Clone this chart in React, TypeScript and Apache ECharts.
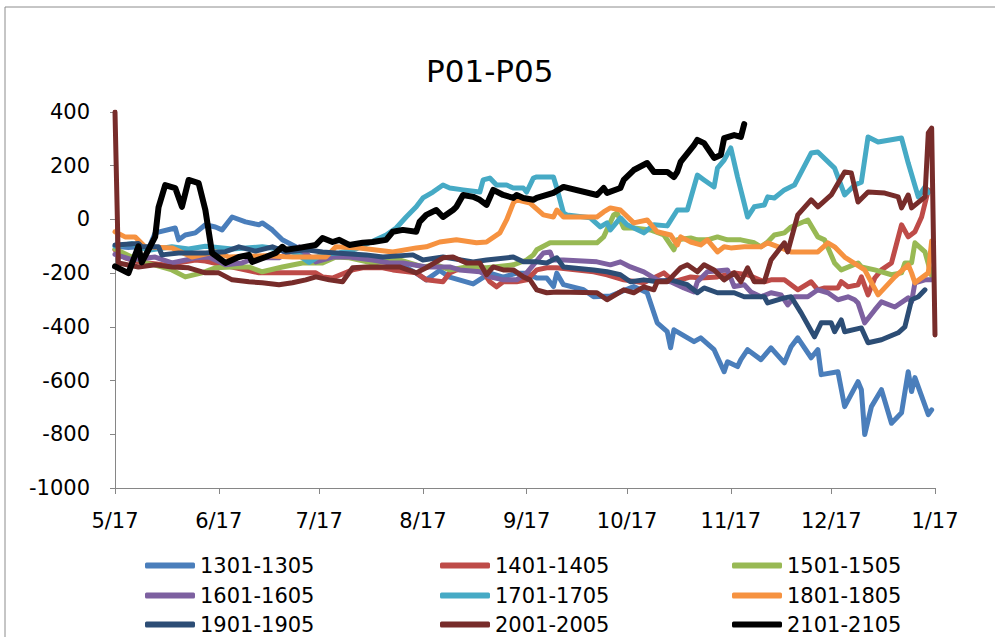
import React, { useEffect, useRef } from "react";
import * as echarts from "echarts";

const titleText = "P01-P05";
const seriesNames = ["1301-1305", "1401-1405", "1501-1505", "1601-1605", "1701-1705", "1801-1805", "1901-1905", "2001-2005", "2101-2105"];
const seriesColors = ["#4A7EBB", "#BE4B48", "#98B954", "#7D60A0", "#46AAC5", "#F69240", "#2C4D75", "#772C2A", "#000000"];

// x = days since 5/17, y = value
const s1301 = [[0,-100],[4,-105],[7,-102],[10,-110],[12,-50],[18,-32],[19,-76],[21,-58],[24,-50],[27,-20],[30,-28],[32,-39],[35,9],[39,-9],[43,-20],[44,-13],[47,-39],[50,-76],[54,-102],[57,-140],[59,-143],[65,-130],[70,-135],[78,-150],[85,-165],[90,-200],[93,-225],[97,-190],[100,-215],[107,-240],[112,-200],[116,-215],[120,-200],[123,-200],[126,-218],[129,-218],[131,-250],[132,-200],[134,-243],[140,-262],[143,-288],[148,-285],[155,-250],[159,-273],[162,-385],[165,-418],[166,-478],[167,-411],[173,-455],[175,-441],[179,-485],[182,-567],[183,-530],[186,-548],[187,-522],[189,-485],[193,-522],[196,-478],[200,-534],[202,-474],[204,-441],[208,-515],[210,-485],[211,-578],[216,-567],[218,-697],[222,-604],[223,-634],[224,-801],[226,-697],[229,-634],[232,-759],[235,-720],[237,-567],[238,-641],[239,-589],[243,-727],[244,-709]];
const s1401 = [[0,-113],[3,-143],[7,-158],[15,-170],[24,-151],[27,-155],[35,-177],[43,-199],[57,-199],[60,-199],[62,-214],[65,-218],[71,-188],[74,-180],[80,-180],[83,-188],[90,-199],[93,-225],[98,-232],[100,-199],[102,-188],[107,-180],[110,-195],[112,-232],[114,-251],[116,-232],[120,-232],[123,-225],[126,-188],[129,-180],[132,-180],[143,-195],[147,-206],[152,-225],[158,-236],[164,-199],[167,-232],[172,-214],[175,-218],[180,-214],[185,-199],[189,-206],[194,-232],[196,-225],[200,-225],[204,-262],[208,-232],[210,-262],[212,-255],[216,-255],[217,-232],[219,-251],[222,-243],[223,-214],[225,-281],[227,-218],[229,-188],[232,-162],[235,-20],[237,-65],[239,-46],[241,9],[243,110]];
const s1501 = [[0,-110],[5,-140],[10,-165],[12,-170],[17,-188],[21,-214],[26,-199],[30,-180],[35,-177],[40,-177],[44,-195],[50,-177],[56,-162],[62,-162],[66,-140],[70,-143],[77,-162],[85,-151],[92,-177],[96,-169],[100,-188],[105,-177],[111,-180],[119,-169],[123,-151],[125,-132],[126,-113],[130,-87],[133,-87],[144,-87],[146,-65],[149,17],[150,24],[152,-32],[155,-32],[160,-39],[164,-58],[167,-113],[168,-76],[172,-69],[174,-76],[177,-76],[180,-65],[183,-76],[187,-76],[191,-87],[193,-102],[195,-84],[197,-58],[200,-50],[202,-28],[207,-2],[210,-65],[212,-76],[215,-162],[217,-188],[222,-162],[223,-177],[227,-188],[232,-206],[235,-199],[236,-162],[238,-162],[239,-87],[242,-121],[244,-210]];
const s1601 = [[0,-130],[5,-150],[12,-140],[17,-162],[24,-143],[28,-140],[33,-169],[38,-162],[42,-143],[49,-143],[55,-102],[57,-125],[60,-158],[65,-140],[70,-140],[77,-151],[82,-162],[86,-162],[93,-177],[97,-177],[100,-177],[103,-188],[109,-195],[112,-214],[116,-225],[120,-225],[123,-199],[125,-169],[128,-125],[130,-121],[131,-151],[134,-151],[144,-158],[148,-169],[151,-158],[154,-177],[158,-195],[162,-225],[166,-232],[170,-255],[173,-270],[174,-232],[177,-195],[183,-188],[185,-250],[188,-243],[190,-270],[193,-288],[196,-273],[199,-281],[201,-318],[203,-288],[207,-288],[210,-262],[213,-273],[216,-299],[219,-288],[221,-299],[222,-311],[224,-385],[227,-337],[229,-307],[233,-326],[237,-292],[238,-307],[239,-236],[242,-225],[244,-225]];
const s1701 = [[0,-100],[5,-90],[10,-115],[17,-102],[22,-110],[27,-100],[35,-110],[44,-102],[49,-110],[54,-125],[58,-160],[62,-130],[67,-125],[72,-110],[76,-87],[81,-58],[84,-32],[87,9],[90,47],[92,80],[95,102],[98,128],[100,117],[104,110],[109,102],[110,147],[112,154],[114,128],[117,128],[119,117],[122,117],[123,102],[125,154],[126,158],[131,158],[132,117],[134,24],[135,17],[142,6],[145,-28],[147,-13],[148,-39],[151,6],[153,-20],[158,-50],[161,-20],[165,-24],[168,35],[171,35],[174,165],[176,147],[179,121],[180,191],[182,221],[184,266],[186,158],[188,60],[189,9],[191,47],[194,54],[195,84],[197,80],[200,110],[203,128],[208,247],[210,251],[215,191],[216,158],[218,91],[221,128],[223,139],[225,307],[228,288],[235,303],[237,210],[240,84],[242,121],[243,100]];
const s1801 = [[0,-46],[3,-65],[6,-65],[9,-102],[17,-106],[23,-140],[30,-121],[34,-140],[45,-135],[53,-140],[63,-140],[66,-102],[73,-106],[83,-121],[90,-106],[93,-102],[97,-84],[102,-76],[108,-87],[111,-84],[115,-50],[117,-2],[119,61],[120,73],[124,61],[128,17],[131,9],[132,35],[134,9],[144,9],[146,28],[148,43],[151,35],[155,-13],[159,-2],[162,-46],[166,-58],[168,-95],[169,-65],[172,-84],[175,-95],[177,-76],[180,-121],[182,-102],[184,-106],[188,-102],[193,-102],[195,-87],[199,-106],[202,-121],[210,-121],[213,-87],[215,-102],[218,-140],[224,-188],[228,-281],[233,-214],[237,-169],[238,-199],[239,-236],[243,-199],[244,-80]];
const s1901 = [[0,-95],[7,-90],[8,-102],[13,-102],[14,-132],[19,-125],[27,-125],[33,-120],[37,-102],[42,-118],[47,-102],[51,-121],[57,-113],[62,-121],[66,-125],[75,-132],[80,-140],[89,-132],[92,-151],[98,-140],[107,-158],[111,-151],[119,-140],[122,-158],[126,-158],[129,-162],[132,-143],[134,-177],[143,-188],[147,-195],[151,-206],[154,-232],[158,-225],[162,-232],[166,-225],[171,-243],[174,-273],[176,-255],[180,-273],[185,-273],[188,-288],[194,-288],[195,-311],[200,-292],[202,-288],[205,-348],[209,-437],[211,-385],[214,-385],[215,-418],[217,-374],[218,-418],[223,-404],[225,-459],[229,-448],[234,-422],[236,-400],[238,-299],[240,-288],[242,-262]];
const s2001 = [[0,400],[1,-162],[7,-177],[12,-169],[17,-177],[22,-180],[27,-199],[31,-199],[35,-225],[40,-232],[44,-236],[49,-243],[53,-236],[57,-225],[60,-214],[64,-225],[68,-232],[71,-180],[75,-177],[85,-177],[90,-199],[93,-180],[98,-143],[101,-140],[105,-162],[109,-162],[111,-206],[113,-177],[116,-188],[119,-188],[122,-214],[124,-225],[126,-262],[129,-273],[132,-270],[144,-273],[147,-299],[152,-262],[155,-273],[158,-251],[161,-262],[162,-232],[165,-232],[169,-180],[171,-169],[174,-195],[176,-169],[179,-188],[182,-225],[185,-199],[187,-232],[189,-180],[191,-232],[194,-232],[196,-151],[200,-87],[201,-121],[204,17],[208,73],[210,47],[214,91],[218,177],[220,173],[222,65],[225,102],[230,98],[234,84],[235,43],[237,91],[238,43],[242,84],[243,322],[244,340],[245,-430]];
const s2101 = [[0,-175],[4,-200],[7,-100],[8,-160],[12,-65],[13,45],[15,128],[18,117],[20,47],[22,147],[25,135],[27,35],[29,-125],[33,-162],[37,-140],[40,-132],[41,-158],[45,-140],[48,-125],[50,-102],[51,-113],[55,-106],[60,-95],[62,-69],[65,-84],[67,-76],[70,-95],[74,-87],[77,-84],[81,-76],[83,-46],[86,-39],[90,-46],[91,-9],[93,17],[96,35],[98,9],[101,35],[102,47],[104,91],[107,84],[109,73],[111,54],[113,110],[116,91],[119,80],[120,91],[122,80],[125,73],[126,80],[131,99],[134,121],[144,91],[146,117],[147,99],[151,117],[152,147],[155,184],[159,210],[161,177],[165,177],[167,158],[168,177],[169,214],[173,277],[174,296],[176,284],[179,229],[181,240],[182,303],[185,314],[187,307],[188,355]];

const allSeries = [s1301, s1401, s1501, s1601, s1701, s1801, s1901, s2001, s2101];

// daily categories from 5/17 to 1/17
const startDay = Date.UTC(2012, 4, 17);
const dayCount = 246;
const dayLabels: string[] = Array.from({ length: dayCount }, (_, i) => {
  const d = new Date(startDay + i * 86400000);
  return `${d.getUTCMonth() + 1}/${d.getUTCDate()}`;
});

const yMin = -1000;
const yMax = 400;
const yStep = 200;

// legend layout: 3 columns x 3 rows, row-major in series order
const legendCols = 3;

export default function App() {
  const ref = useRef<HTMLDivElement>(null);
  useEffect(() => {
    if (!ref.current) return;
    const chart = echarts.init(ref.current, null, { renderer: "svg" });
    const font = "DejaVu Sans";
    const isMonthTick = (_i: number, v: string) => /\/17$/.test(v);
    const legendLefts = [145, 440, 732];
    const legendTops = [555, 585, 614];
    chart.setOption({
      animation: false,
      backgroundColor: "#ffffff",
      title: {
        text: titleText,
        left: 421,
        top: 50,
        textStyle: { fontFamily: font, fontSize: 31, fontWeight: "normal", color: "#000" },
      },
      grid: { left: 115, right: 60, top: 112, bottom: 149, containLabel: false },
      xAxis: {
        type: "category",
        data: dayLabels,
        boundaryGap: false,
        axisLine: { onZero: false, lineStyle: { color: "#868686", width: 1 } },
        axisTick: { show: true, interval: isMonthTick, length: 6, lineStyle: { color: "#868686" } },
        axisLabel: { interval: isMonthTick, margin: 22, fontFamily: font, fontSize: 21, color: "#000" },
        splitLine: { show: false },
      },
      yAxis: {
        type: "value",
        min: yMin,
        max: yMax,
        interval: yStep,
        axisLine: { show: true, lineStyle: { color: "#868686", width: 1 } },
        axisTick: { show: true, length: 5, lineStyle: { color: "#868686" } },
        axisLabel: { margin: 25, fontFamily: font, fontSize: 21, color: "#000", formatter: (v: number) => String(v) },
        splitLine: { show: false },
      },
      legend: seriesNames.map((name, i) => ({
        data: [name],
        left: legendLefts[i % legendCols],
        top: legendTops[Math.floor(i / legendCols)],
        itemWidth: 50,
        itemHeight: 6,
        icon: "roundRect",
        selectedMode: false,
        textStyle: { fontFamily: font, fontSize: 21, color: "#000" },
        padding: 0,
      })),
      graphic: [
        {
          type: "rect",
          shape: { x: 5, y: 7, width: 1100, height: 700 },
          style: { fill: "none", stroke: "#8c8c8c", lineWidth: 1 },
          silent: true,
          z: -10,
        },
      ],
      series: allSeries.map((data, i) => ({
        name: seriesNames[i],
        type: "line",
        data,
        showSymbol: false,
        symbol: "none",
        color: seriesColors[i],
        lineStyle: { width: i === 8 ? 6 : 5, color: seriesColors[i], cap: "round", join: "round" },
        itemStyle: { color: seriesColors[i] },
      })),
    });
    return () => chart.dispose();
  }, []);
  return <div ref={ref} style={{ position: "fixed", left: 0, top: 0, width: 995, height: 637 }} />;
}
